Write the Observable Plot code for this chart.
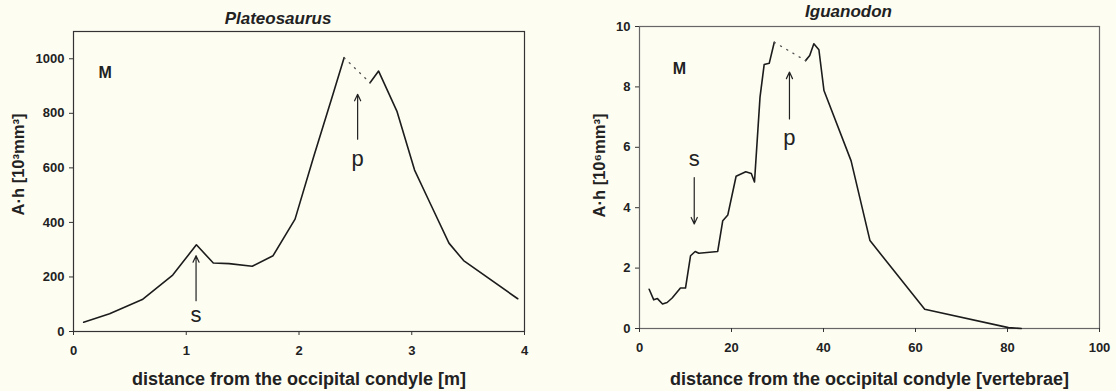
<!DOCTYPE html>
<html><head><meta charset="utf-8">
<script src="https://cdn.jsdelivr.net/npm/d3@7"></script>
<script src="https://cdn.jsdelivr.net/npm/@observablehq/plot@0.6"></script>
<style>
html,body{margin:0;padding:0;background:#fdfdf2;}
#wrap{position:relative;width:1116px;height:391px;overflow:hidden;background:#fdfdf2;}
#left{position:absolute;left:0;top:0;}
#right{position:absolute;left:556px;top:0;}
</style></head><body><div id="wrap"><div id="left"></div><div id="right"></div></div>
<script>
// ---- Plateosaurus (left) ----
const plateoTitle = "Plateosaurus";
const plateoXLabel = "distance from the occipital condyle [m]";
const plateoYLabel = "A·h [10³mm³]";
const plateoXTicks = [0, 1, 2, 3, 4];
const plateoYTicks = [0, 200, 400, 600, 800, 1000];
const plateoDistA = [0.09, 0.32, 0.61, 0.88, 1.09, 1.24, 1.38, 1.585, 1.77, 1.965, 2.13, 2.30, 2.40];
const plateoAhA   = [34, 65, 117, 207, 318, 251, 249, 239, 278, 412, 641, 868, 1004];
const plateoDistB = [2.63, 2.706, 2.87, 3.025, 3.16, 3.33, 3.46, 3.94];
const plateoAhB   = [912, 955, 806, 592, 473, 324, 260, 120];
const plateoMarkLabels = ["s", "p"];
const plateoMarkX = [1.087, 2.52];
const plateoArrowTail = [113, 705];
const plateoArrowTip = [278, 870];
const plateoLabelY = [34, 607];

// ---- Iguanodon (right) ----
const iguaTitle = "Iguanodon";
const iguaXLabel = "distance from the occipital condyle [vertebrae]";
const iguaYLabel = "A·h [10⁶mm³]";
const iguaXTicks = [0, 20, 40, 60, 80, 100];
const iguaYTicks = [0, 2, 4, 6, 8, 10];
const iguaDistA = [2.1, 3.1, 3.9, 5.0, 6.0, 7.1, 8.9, 10.0, 11.1, 12.1, 12.9, 17.0, 18.1, 19.2, 21.0, 23.1, 24.3, 25.0, 26.2, 27.1, 28.2, 29.3];
const iguaAhA   = [1.30, 0.95, 0.99, 0.81, 0.86, 1.01, 1.34, 1.34, 2.41, 2.55, 2.49, 2.55, 3.57, 3.76, 5.04, 5.19, 5.13, 4.85, 7.66, 8.74, 8.78, 9.48];
const iguaDistB = [36.1, 37.0, 37.9, 39.0, 40.1, 46.0, 50.1, 62.0, 80.2, 83.0];
const iguaAhB   = [8.87, 9.04, 9.43, 9.23, 7.88, 5.55, 2.91, 0.64, 0.03, 0.0];
const iguaMarkLabels = ["s", "p"];
const iguaMarkX = [11.9, 32.6];
const iguaArrowTail = [5.0, 6.94];
const iguaArrowTip = [3.46, 8.49];
const iguaLabelY = [5.37, 6.06];

const FONT = "'Liberation Sans', Arial, sans-serif";

function panel(o) {
  return Plot.plot({
    width: o.width, height: o.height,
    marginLeft: o.ml, marginRight: o.mr, marginTop: o.mt, marginBottom: o.mb,
    style: {background: "transparent", fontFamily: FONT, overflow: "visible", color: "#222"},
    x: {domain: o.xDomain},
    y: {domain: o.yDomain},
    marks: [
      Plot.frame({stroke: o.frameStroke, strokeWidth: 1.2}),
      Plot.axisX({ticks: o.xTicks, tickSize: 4, tickPadding: 10.5, fontSize: 13, fontWeight: "bold", label: null, stroke: "#333", tickFormat: d => String(d)}),
      Plot.axisY({ticks: o.yTicks, tickSize: 4, tickPadding: 5, fontSize: 13, fontWeight: "bold", label: null, stroke: "#333", tickFormat: d => String(d)}),
      Plot.line(o.ahA, {x: o.distA, y: o.ahA, stroke: "#1c1c1c", strokeWidth: 1.6}),
      Plot.line(o.ahB, {x: o.distB, y: o.ahB, stroke: "#1c1c1c", strokeWidth: 1.6}),
      Plot.line([0, 1], {x: [o.distA[o.distA.length - 1], o.distB[0]], y: [o.ahA[o.ahA.length - 1], o.ahB[0]], stroke: "#555", strokeWidth: 1.3, strokeDasharray: "1.2,6"}),
      Plot.arrow(o.markX, {x1: o.markX, x2: o.markX, y1: o.tail, y2: o.tip, stroke: "#222", strokeWidth: 1.2, headLength: 9, headAngle: 50}),
      Plot.text(o.marks, {x: o.markX, y: o.labelY, text: o.marks, lineAnchor: "bottom", textAnchor: "middle", fontSize: 22, fill: "#222"}),
      Plot.text(["M"], {x: [o.mX], y: [o.mY], text: d => d, fontWeight: "bold", fontSize: 16, lineAnchor: "middle", textAnchor: "middle", fill: "#222"}),
      Plot.text([o.title], {frameAnchor: "top", text: d => d, dx: o.titleDx, dy: o.titleDy, lineAnchor: "bottom", fontStyle: "italic", fontWeight: "bold", fontSize: 17, fill: "#222"}),
      Plot.text([o.xLabel], {frameAnchor: "bottom", text: d => d, dy: o.xLabelDy, lineAnchor: "bottom", fontWeight: "bold", fontSize: 18, fill: "#222"}),
      Plot.text([o.yLabel], {frameAnchor: "left", text: d => d, rotate: -90, dx: o.yLabelDx, dy: o.yLabelDy, lineAnchor: "middle", textAnchor: "middle", fontWeight: "bold", fontSize: 16.5, fill: "#222"})
    ]
  });
}

document.getElementById("left").appendChild(panel({
  width: 556, height: 391, ml: 73, mr: 32, mt: 31, mb: 60,
  xDomain: [0, 4], yDomain: [0, 1100], xTicks: plateoXTicks, yTicks: plateoYTicks,
  distA: plateoDistA, ahA: plateoAhA, distB: plateoDistB, ahB: plateoAhB,
  markX: plateoMarkX, tail: plateoArrowTail, tip: plateoArrowTip, marks: plateoMarkLabels, labelY: plateoLabelY,
  mX: 0.28, mY: 949, frameStroke: "#333",
  title: plateoTitle, titleDx: -21, titleDy: -8,
  xLabel: plateoXLabel, xLabelDy: 53,
  yLabel: plateoYLabel, yLabelDx: -55, yLabelDy: -17
}));

document.getElementById("right").appendChild(panel({
  width: 560, height: 391, ml: 83, mr: 17, mt: 26, mb: 63,
  xDomain: [0, 100], yDomain: [0, 10], xTicks: iguaXTicks, yTicks: iguaYTicks,
  distA: iguaDistA, ahA: iguaAhA, distB: iguaDistB, ahB: iguaAhB,
  markX: iguaMarkX, tail: iguaArrowTail, tip: iguaArrowTip, marks: iguaMarkLabels, labelY: iguaLabelY,
  mX: 8.7, mY: 8.6, frameStroke: "#666",
  title: iguaTitle, titleDx: -21, titleDy: -10,
  xLabel: iguaXLabel, xLabelDy: 56,
  yLabel: iguaYLabel, yLabelDx: -40, yLabelDy: -12
}));
</script></body></html>
